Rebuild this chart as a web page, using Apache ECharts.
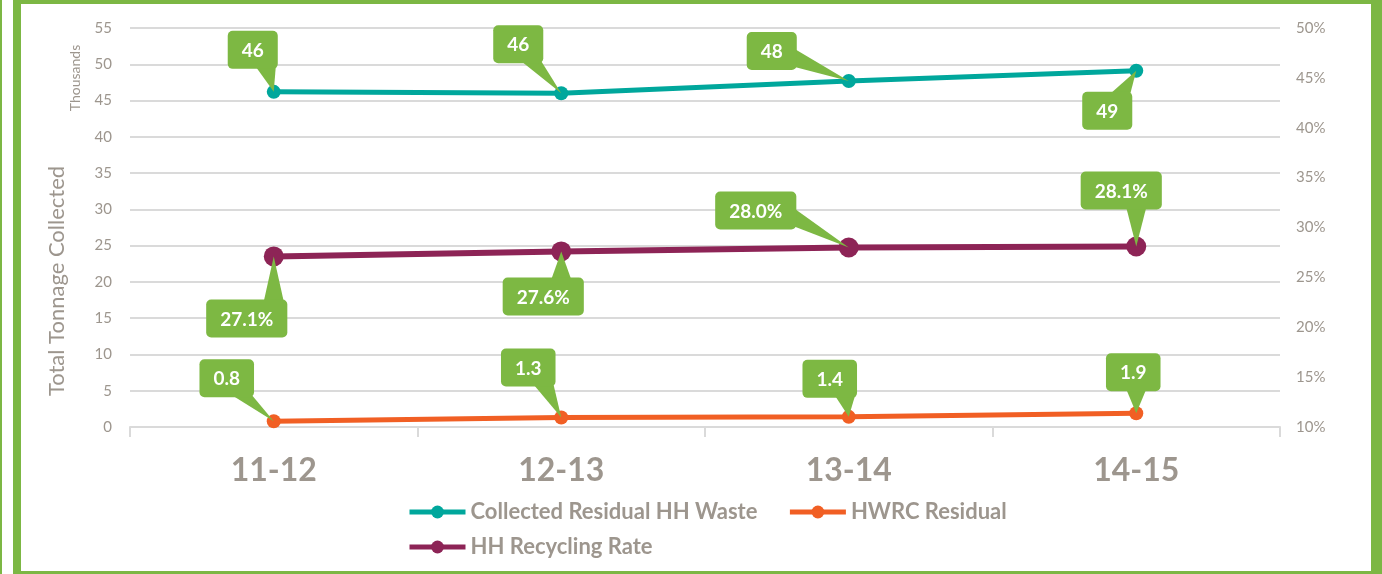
<!DOCTYPE html>
<html style="height: 100%">
<head>
<meta charset="utf-8">
<style type="text/css">
    body, html { width: 100%; height: 100%; margin: 0; overflow: hidden; background: #fff; }
    #display { position: absolute; left: 0; top: 0; width: 1382px; height: 574px; }
    #stripe { position: absolute; left: 0; top: 0; width: 2px; height: 574px; background: #7cb744; }
    #frame { position: absolute; left: 13px; top: 0; width: 1350px; height: 567px;
             border-left: 8px solid #7cb744; border-top: 4px solid #7cb744;
             border-right: 11px solid #7cb744; border-bottom: 3px solid #7cb744; pointer-events: none; }
</style>
</head>
<body>
<div id="display"></div>
<div id="stripe"></div>
<div id="frame"></div>
<script type="text/javascript" src="https://cdn.jsdelivr.net/npm/echarts@6/dist/echarts.min.js"></script>
<script type="text/javascript">
// data
var years = ['11-12', '12-13', '13-14', '14-15'];
var residualWaste = [46.2, 46.0, 47.7, 49.1];   // thousands of tonnes
var hwrcResidual = [0.8, 1.3, 1.4, 1.9];        // thousands of tonnes
var recyclingRate = [27.1, 27.6, 28.0, 28.1];   // percent
var leftTicks = { min: 0, max: 55, step: 5 };
var rightTicks = { min: 10, max: 50, step: 5 };

// callout box offsets from the point (layout only)
var wasteOffsets = [[-21, -42], [-43, -49], [-77, -30], [-29, 40]];
var rateOffsets = [[-27, 62], [-18, 45], [-93, -37], [-15, -56]];
var hwrcOffsets = [[-47, -43], [-33, -50], [-19, -38], [-3, -41]];

var green = '#7db843';
var grey = '#9d968e';
var gridGrey = '#dadada';
var labelFont = 'bold 19px Lato';

var ctx = document.createElement('canvas').getContext('2d');
function textWidth(s) {
    ctx.font = labelFont;
    return ctx.measureText(s).width;
}
function clamp(v, a, b) { return Math.max(a, Math.min(b, v)); }

function callouts(name, values, yIndex, offsets, fmt) {
    return {
        type: 'custom',
        name: name,
        yAxisIndex: yIndex,
        z: 10,
        silent: true,
        data: values.map(function (v, i) { return [i, v]; }),
        renderItem: function (params, api) {
            var i = params.dataIndex;
            var p = api.coord([api.value(0), api.value(1)]);
            var txt = fmt(api.value(1));
            var w = Math.max(textWidth(txt) + 28, 48), h = 38;
            var cx = p[0] + offsets[i][0], cy = p[1] + offsets[i][1];
            var l = cx - w / 2, r = cx + w / 2, t = cy - h / 2, b = cy + h / 2;
            var dxOut = p[0] < l ? l - p[0] : (p[0] > r ? p[0] - r : 0);
            var dyOut = p[1] < t ? t - p[1] : (p[1] > b ? p[1] - b : 0);
            var pts;
            if (dyOut >= dxOut * 0.6) {
                var ey = p[1] > b ? b - 2 : t + 2;
                var bx = clamp(p[0], l + 12, r - 12);
                pts = [[bx - 10, ey], [bx + 10, ey], p];
            } else {
                var ex = p[0] > r ? r - 2 : l + 2;
                var by = clamp(p[1], t + 12, b - 12);
                pts = [[ex, by - 9], [ex, by + 9], p];
            }
            return {
                type: 'group',
                children: [
                    { type: 'polygon', shape: { points: pts }, style: { fill: green } },
                    { type: 'rect', shape: { x: l, y: t, width: w, height: h, r: 5 }, style: { fill: green } },
                    { type: 'text', style: { text: txt, x: cx, y: cy + 1, align: 'center', verticalAlign: 'middle',
                        fill: '#ffffff', font: labelFont } }
                ]
            };
        }
    };
}

function lineSeries(name, values, yIndex, color, size, width) {
    return {
        name: name,
        type: 'line',
        yAxisIndex: yIndex,
        data: values,
        symbol: 'circle',
        symbolSize: size,
        lineStyle: { color: color, width: width },
        itemStyle: { color: color },
        z: 3
    };
}

var chart = echarts.init(document.getElementById('display'));
var legendText = { color: grey, fontFamily: 'Lato', fontWeight: 'bold', fontSize: 22 };

var option = {
    animation: false,
    backgroundColor: 'transparent',
    grid: { left: 130, right: 102, top: 28, bottom: 147 },
    graphic: [
        { type: 'text', x: 57, y: 281, rotation: Math.PI / 2,
          style: { text: 'Total Tonnage Collected', align: 'center', verticalAlign: 'middle',
                   fill: grey, font: '22px Lato' } },
        { type: 'text', x: 75, y: 78, rotation: Math.PI / 2,
          style: { text: 'Thousands', align: 'center', verticalAlign: 'middle',
                   fill: grey, font: '14px Lato' } }
    ],
    legend: [{
        left: 402, top: 496,
        itemWidth: 56, itemHeight: 16, itemGap: 30,
        lineStyle: { width: 5 },
        textStyle: legendText,
        data: ['Collected Residual HH Waste', 'HWRC Residual']
    }, {
        left: 402, top: 531,
        itemWidth: 56, itemHeight: 16,
        lineStyle: { width: 5 },
        textStyle: legendText,
        data: ['HH Recycling Rate']
    }],
    xAxis: {
        type: 'category',
        data: years,
        boundaryGap: true,
        axisLine: { lineStyle: { color: gridGrey, width: 2 } },
        axisTick: { show: true, length: 10, lineStyle: { color: gridGrey, width: 2 } },
        axisLabel: { margin: 28, color: grey, fontFamily: 'Lato', fontWeight: 'bold', fontSize: 32 }
    },
    yAxis: [{
        type: 'value',
        min: leftTicks.min, max: leftTicks.max, interval: leftTicks.step,
        axisLine: { show: false },
        axisTick: { show: false },
        axisLabel: { margin: 18, color: grey, fontFamily: 'Lato', fontSize: 15 },
        splitLine: { lineStyle: { color: gridGrey, width: 2 } }
    }, {
        type: 'value',
        position: 'right',
        min: rightTicks.min, max: rightTicks.max, interval: rightTicks.step,
        axisLine: { show: false },
        axisTick: { show: false },
        axisLabel: { margin: 16, color: grey, fontFamily: 'Lato', fontSize: 15, formatter: '{value}%' },
        splitLine: { show: false }
    }],
    series: [
        lineSeries('Collected Residual HH Waste', residualWaste, 0, '#00a79c', 14, 5),
        lineSeries('HWRC Residual', hwrcResidual, 0, '#f15f24', 14, 5),
        lineSeries('HH Recycling Rate', recyclingRate, 1, '#8d2456', 20, 6),
        callouts('waste labels', residualWaste, 0, wasteOffsets, function (v) { return Math.round(v).toString(); }),
        callouts('hwrc labels', hwrcResidual, 0, hwrcOffsets, function (v) { return v.toFixed(1); }),
        callouts('rate labels', recyclingRate, 1, rateOffsets, function (v) { return v.toFixed(1) + '%'; })
    ]
};
chart.setOption(option);
</script>
</body>
</html>
